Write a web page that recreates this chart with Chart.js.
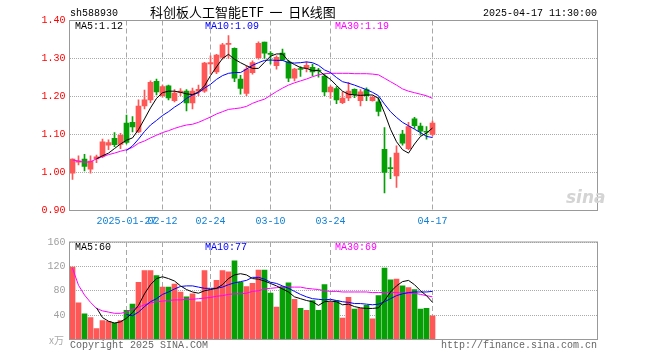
<!DOCTYPE html>
<html>
<head>
<meta charset="utf-8">
<script src="https://cdn.jsdelivr.net/npm/chart.js@4.4.1/dist/chart.umd.min.js"></script>
<style>
body { margin: 0; background: #fff; width: 660px; height: 360px; overflow: hidden; position: relative;
       font-family: "Liberation Mono", "DejaVu Sans Mono", monospace; font-size: 10px; }
canvas { position: absolute; left: 0; }
.t { position: absolute; white-space: pre; line-height: 10px; }
</style>
</head>
<body>
<canvas id="kChart" width="660" height="232" style="top:0"></canvas>
<canvas id="volChart" width="660" height="128" style="top:232px"></canvas>

<div class="t" style="left:70px;top:9px;color:#000">sh588930</div>
<div class="t" style="left:150px;top:5px;color:#000;font:13px/13px 'Noto Sans CJK SC',sans-serif">科创板人工智能ETF  一  日K线图</div>
<div class="t" style="right:63px;top:9px;color:#000">2025-04-17 11:30:00</div>

<div class="t" style="left:75px;top:22px;color:#000">MA5:1.12</div>
<div class="t" style="left:205px;top:22px;color:#0000ff">MA10:1.09</div>
<div class="t" style="left:335px;top:22px;color:#ff00ff">MA30:1.19</div>

<div class="t" style="left:75px;top:243px;color:#000">MA5:60</div>
<div class="t" style="left:205px;top:243px;color:#0000ff">MA10:77</div>
<div class="t" style="left:335px;top:243px;color:#ff00ff">MA30:69</div>

<div class="t" style="left:49px;top:335px;color:#aaa;font:10px/10px 'Noto Sans CJK SC',sans-serif">x万</div>
<div class="t" style="left:70px;top:341px;color:#666">Copyright 2025 SINA.COM</div>
<div class="t" style="right:63px;top:341px;color:#666">http://finance.sina.com.cn</div>
<div class="t" style="left:566px;top:189px;color:#d4d4d4;font:italic bold 17px/17px 'DejaVu Sans',sans-serif">sina</div>

<script>
// trading days shown (61 candles), the axis keeps room for more days on the right
var dates = [
    '2025-01-14', '2025-01-15', '2025-01-16', '2025-01-17', '2025-01-20', '2025-01-21', '2025-01-22', '2025-01-23',
    '2025-01-24', '2025-01-27', '2025-02-05', '2025-02-06', '2025-02-07', '2025-02-10', '2025-02-11', '2025-02-12',
    '2025-02-13', '2025-02-14', '2025-02-17', '2025-02-18', '2025-02-19', '2025-02-20', '2025-02-21', '2025-02-24',
    '2025-02-25', '2025-02-26', '2025-02-27', '2025-02-28', '2025-03-03', '2025-03-04', '2025-03-05', '2025-03-06',
    '2025-03-07', '2025-03-10', '2025-03-11', '2025-03-12', '2025-03-13', '2025-03-14', '2025-03-17', '2025-03-18',
    '2025-03-19', '2025-03-20', '2025-03-21', '2025-03-24', '2025-03-25', '2025-03-26', '2025-03-27', '2025-03-28',
    '2025-03-31', '2025-04-01', '2025-04-02', '2025-04-03', '2025-04-07', '2025-04-08', '2025-04-09', '2025-04-10',
    '2025-04-11', '2025-04-14', '2025-04-15', '2025-04-16', '2025-04-17'
];
var emptySlots = 27;
var tickDates = ['2025-01-27', '2025-02-12', '2025-02-24', '2025-03-10', '2025-03-24', '2025-04-17'];
var tickLabels = ['2025-01-27', '02-12', '02-24', '03-10', '03-24', '04-17'];

var openP = [
    0.998, 1.027, 1.035, 1.009, 1.036, 1.042, 1.072, 1.090, 1.074, 1.130, 1.132, 1.107, 1.175, 1.191, 1.240, 1.202,
    1.228, 1.189, 1.211, 1.214, 1.183, 1.214, 1.214, 1.286, 1.265, 1.303, 1.337, 1.327, 1.246, 1.208, 1.263, 1.302,
    1.343, 1.313, 1.281, 1.314, 1.291, 1.248, 1.273, 1.274, 1.277, 1.269, 1.254, 1.212, 1.221, 1.184, 1.196, 1.219,
    1.189, 1.218, 1.189, 1.186, 1.061, 1.012, 0.991, 1.101, 1.063, 1.141, 1.122, 1.108, 1.100
];
var closeP = [
    1.035, 1.031, 1.016, 1.030, 1.041, 1.081, 1.079, 1.073, 1.098, 1.079, 1.120, 1.175, 1.191, 1.237, 1.212, 1.226,
    1.196, 1.209, 1.214, 1.183, 1.214, 1.219, 1.288, 1.289, 1.309, 1.336, 1.340, 1.248, 1.221, 1.272, 1.289, 1.340,
    1.314, 1.311, 1.303, 1.296, 1.248, 1.272, 1.271, 1.282, 1.265, 1.267, 1.212, 1.225, 1.191, 1.196, 1.214, 1.205,
    1.212, 1.202, 1.198, 1.161, 1.000, 1.010, 1.051, 1.077, 1.121, 1.123, 1.109, 1.106, 1.130
];
var highP = [
    1.036, 1.044, 1.048, 1.044, 1.046, 1.088, 1.086, 1.105, 1.103, 1.151, 1.147, 1.191, 1.217, 1.241, 1.246, 1.230,
    1.230, 1.218, 1.221, 1.218, 1.222, 1.230, 1.290, 1.307, 1.311, 1.340, 1.360, 1.328, 1.256, 1.281, 1.294, 1.344,
    1.343, 1.318, 1.307, 1.325, 1.295, 1.274, 1.279, 1.291, 1.285, 1.274, 1.259, 1.228, 1.226, 1.212, 1.237, 1.220,
    1.218, 1.223, 1.202, 1.197, 1.118, 1.039, 1.070, 1.111, 1.132, 1.145, 1.130, 1.121, 1.135
];
var lowP = [
    0.982, 1.020, 1.004, 0.998, 1.026, 1.039, 1.060, 1.068, 1.063, 1.075, 1.107, 1.105, 1.167, 1.184, 1.204, 1.198,
    1.191, 1.186, 1.202, 1.162, 1.167, 1.202, 1.211, 1.259, 1.260, 1.298, 1.300, 1.239, 1.206, 1.202, 1.259, 1.298,
    1.300, 1.286, 1.272, 1.294, 1.239, 1.241, 1.253, 1.265, 1.254, 1.251, 1.202, 1.195, 1.181, 1.181, 1.189, 1.197,
    1.175, 1.189, 1.188, 1.149, 0.946, 0.984, 0.961, 1.072, 1.060, 1.116, 1.098, 1.088, 1.096
];
var ma5 = [
    null, null, null, null, 1.036, 1.044, 1.051, 1.063, 1.075, 1.085, 1.091, 1.113, 1.141, 1.170, 1.195, 1.210,
    1.214, 1.214, 1.211, 1.207, 1.205, 1.212, 1.228, 1.255, 1.278, 1.300, 1.311, 1.298, 1.289, 1.281, 1.274, 1.274,
    1.290, 1.306, 1.312, 1.312, 1.293, 1.284, 1.276, 1.274, 1.268, 1.269, 1.256, 1.245, 1.229, 1.214, 1.206, 1.204,
    1.203, 1.204, 1.204, 1.195, 1.157, 1.114, 1.081, 1.060, 1.051, 1.075, 1.095, 1.104, 1.117
];
var ma10 = [
    null, null, null, null, null, null, null, null, null, 1.058, 1.070, 1.088, 1.108, 1.125, 1.137, 1.150,
    1.160, 1.172, 1.182, 1.195, 1.204, 1.210, 1.222, 1.232, 1.245, 1.255, 1.261, 1.263, 1.263, 1.272, 1.282, 1.289,
    1.295, 1.296, 1.295, 1.295, 1.289, 1.288, 1.289, 1.291, 1.289, 1.282, 1.270, 1.263, 1.250, 1.239, 1.235, 1.230,
    1.224, 1.218, 1.211, 1.202, 1.180, 1.160, 1.145, 1.132, 1.123, 1.114, 1.105, 1.095, 1.092
];
var ma30 = [
    1.033, 1.030, 1.027, 1.028, 1.036, 1.042, 1.047, 1.051, 1.056, 1.060, 1.066, 1.077, 1.083, 1.091, 1.098, 1.105,
    1.110, 1.116, 1.121, 1.125, 1.127, 1.132, 1.139, 1.146, 1.154, 1.160, 1.166, 1.168, 1.170, 1.174, 1.182, 1.188,
    1.193, 1.203, 1.213, 1.222, 1.230, 1.236, 1.241, 1.246, 1.252, 1.257, 1.260, 1.261, 1.261, 1.261, 1.261, 1.260,
    1.260, 1.260, 1.259, 1.257, 1.248, 1.239, 1.230, 1.220, 1.214, 1.210, 1.206, 1.202, 1.195
];

// volume, unit: 万手
var volume = [
    119, 60, 42, 36, 18, 31, 30, 27, 31, 48, 58, 94, 113, 113, 105, 86,
    86, 91, 78, 70, 75, 62, 113, 82, 97, 113, 111, 129, 94, 87, 92, 114,
    114, 76, 53, 87, 93, 66, 51, 48, 64, 48, 90, 61, 64, 35, 69, 50,
    51, 56, 34, 72, 117, 98, 99, 88, 85, 82, 50, 51, 39
];
var volMa5 = [
    null, null, null, null, 52, 36, 30, 27, 29, 35, 44, 56, 75, 90, 100, 103,
    100, 96, 88, 82, 78, 76, 80, 82, 84, 90, 100, 106, 108, 106, 100, 99,
    96, 92, 88, 83, 78, 70, 67, 64, 62, 56, 62, 63, 62, 57, 58, 54,
    52, 51, 51, 52, 64, 78, 88, 95, 97, 90, 80, 72, 61
];
var volMa10 = [
    null, null, null, null, null, null, null, null, null, 41, 39, 45, 54, 62, 67, 74,
    78, 83, 87, 88, 88, 86, 84, 84, 84, 86, 90, 93, 95, 97, 102, 102,
    99, 94, 92, 88, 84, 79, 74, 70, 67, 66, 65, 66, 64, 62, 61, 59,
    59, 58, 57, 58, 62, 67, 72, 75, 77, 78, 78, 78, 79
];
var volMa30 = [
    117, 89, 73, 61, 51, 47, 45, 43, 43, 45, 50, 53, 57, 60, 62, 63,
    64, 65, 65, 66, 66, 67, 68, 69, 71, 72, 74, 75, 75, 76, 79, 80,
    83, 84, 85, 86, 86, 86, 86, 84, 83, 82, 80, 79, 79, 78, 78, 78,
    78, 78, 77, 77, 77, 77, 77, 76, 76, 76, 74, 72, 70
];

var priceMin = 0.9, priceMax = 1.4, priceStep = 0.1;
var volMin = 0, volMax = 160, volStep = 40;

var RED = '#ff5656';
var GREEN = '#06a006';
var MONO = "'Liberation Mono', 'DejaVu Sans Mono', monospace";

var slotLabels = dates.concat(new Array(emptySlots).fill(''));
var tickIdx = tickDates.map(d => dates.indexOf(d));
var candleColors = closeP.map((c, i) => c >= openP[i] ? RED : GREEN);
var wicks = lowP.map((l, i) => [l, highP[i]]);
var bodies = openP.map((o, i) => [o, closeP[i]]);

var framePlugin = {
    id: 'frame',
    afterDraw: function (chart) {
        var a = chart.chartArea;
        var ctx = chart.ctx;
        ctx.save();
        ctx.strokeStyle = '#999';
        ctx.lineWidth = 1;
        ctx.setLineDash([]);
        ctx.strokeRect(a.left, a.top, a.right - a.left, a.bottom - a.top);
        ctx.restore();
    }
};

function makeX(showLabels) {
    return {
        type: 'category',
        offset: true,
        grid: {
            offset: false,
            drawTicks: false,
            lineWidth: 1,
            color: c => tickIdx.includes(c.index) ? '#a8a8a8' : 'rgba(0,0,0,0)'
        },
        border: { display: false, dash: [5, 3] },
        ticks: {
            display: showLabels,
            autoSkip: false,
            maxRotation: 0,
            minRotation: 0,
            padding: 5,
            color: '#1180d8',
            font: { family: MONO, size: 10 },
            callback: function (v, i) {
                var k = tickIdx.indexOf(i);
                return k >= 0 ? tickLabels[k] : '';
            }
        },
        afterFit: function (scale) { scale.height = showLabels ? 21.5 : 0; }
    };
}

function lineSet(data, color) {
    return { type: 'line', data: data, borderColor: color, borderWidth: 1, pointRadius: 0, tension: 0, order: 0 };
}

new Chart(document.getElementById('kChart'), {
    type: 'bar',
    data: {
        labels: slotLabels,
        datasets: [
            lineSet(ma5, '#000000'),
            lineSet(ma10, '#0000ff'),
            lineSet(ma30, '#ff00ff'),
            { data: bodies, backgroundColor: candleColors, barThickness: 5, grouped: false, minBarLength: 1, order: 1 },
            { data: wicks, backgroundColor: candleColors, barThickness: 1, grouped: false, order: 2 }
        ]
    },
    options: {
        responsive: false,
        animation: false,
        devicePixelRatio: 1,
        layout: { padding: { left: 0, right: 62.5, top: 20.5, bottom: 0 } },
        plugins: { legend: { display: false }, tooltip: { enabled: false } },
        scales: {
            x: makeX(true),
            y: {
                min: priceMin,
                max: priceMax,
                grid: { color: '#aaa', lineWidth: 1, drawTicks: false },
                border: { display: false, dash: [1, 1] },
                ticks: {
                    stepSize: priceStep,
                    padding: 4,
                    color: '#ff0000',
                    font: { family: MONO, size: 10 },
                    callback: v => Number(v).toFixed(2)
                },
                afterFit: function (scale) { scale.width = 69.5; }
            }
        }
    },
    plugins: [framePlugin]
});

new Chart(document.getElementById('volChart'), {
    type: 'bar',
    data: {
        labels: slotLabels,
        datasets: [
            lineSet(volMa5, '#000000'),
            lineSet(volMa10, '#0000ff'),
            lineSet(volMa30, '#ff00ff'),
            { data: volume, backgroundColor: candleColors, barThickness: 5, grouped: false, order: 1 }
        ]
    },
    options: {
        responsive: false,
        animation: false,
        devicePixelRatio: 1,
        layout: { padding: { left: 0, right: 62.5, top: 8.5, bottom: 20.5 } },
        plugins: { legend: { display: false }, tooltip: { enabled: false } },
        scales: {
            x: makeX(false),
            y: {
                min: volMin,
                max: volMax,
                grid: { color: '#aaa', lineWidth: 1, drawTicks: false },
                border: { display: false, dash: [1, 1] },
                ticks: {
                    stepSize: volStep,
                    padding: 4,
                    color: '#a0a0a0',
                    font: { family: MONO, size: 10 },
                    callback: v => v === 0 ? '' : v
                },
                afterFit: function (scale) { scale.width = 69.5; }
            }
        }
    },
    plugins: [framePlugin]
});
</script>
</body>
</html>
